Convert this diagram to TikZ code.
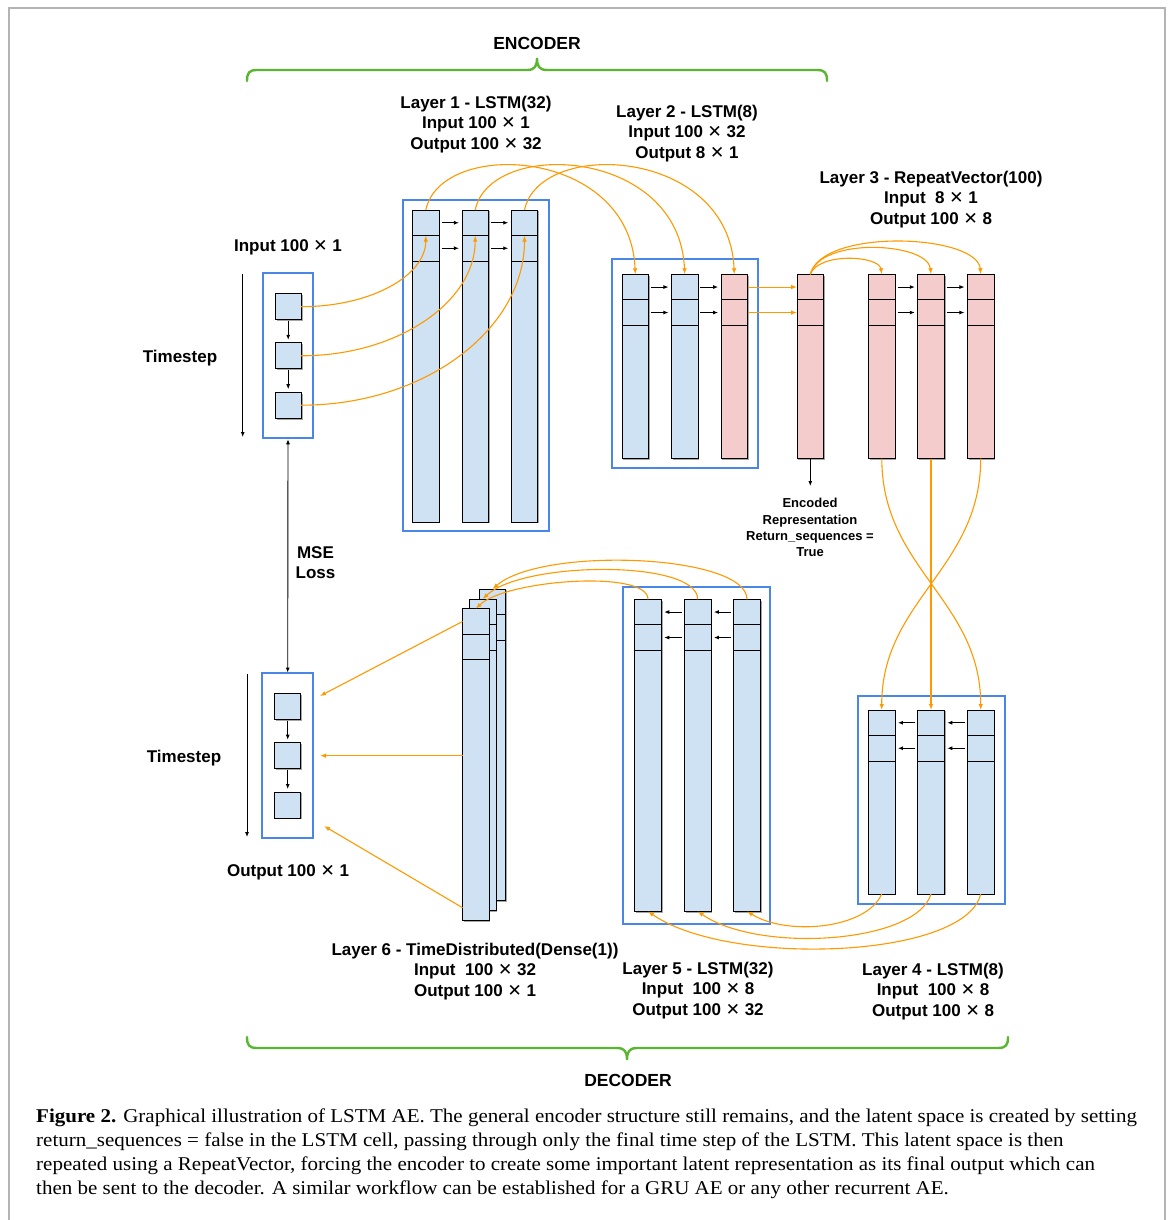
\documentclass[tikz,border=0pt]{standalone}
\usepackage{fontspec}
\usepackage{graphicx}
\setmainfont{Liberation Serif}
\newfontfamily\labf{Liberation Sans}
\newfontfamily\symf{DejaVu Sans}
\usetikzlibrary{arrows.meta,calc,shadows}
\definecolor{cellblue}{HTML}{CFE2F3}
\definecolor{cellpink}{HTML}{F4CCCC}
\definecolor{boxblue}{HTML}{4A86E8}
\definecolor{orng}{HTML}{FF9900}
\definecolor{brgreen}{HTML}{5AB530}
\definecolor{framegray}{HTML}{B4B4B4}
\newcommand{\mx}{{\symf\mdseries ✕}}
\newcommand{\capsc}[1]{\scalebox{1.077}[1]{#1}}
\tikzset{
  cell/.style={draw=black, line width=0.9pt, inner sep=0pt, outer sep=0pt, rectangle, minimum width=26.5pt,
    drop shadow={shadow xshift=1.3pt, shadow yshift=-1.3pt, fill=black, opacity=0.35}},
  sq/.style={draw=black, line width=0.9pt, fill=cellblue, inner sep=0pt, outer sep=0pt, minimum size=26pt,
    drop shadow={shadow xshift=1.3pt, shadow yshift=-1.3pt, fill=black, opacity=0.35}},
  bluebox/.style={draw=boxblue, line width=2pt, inner sep=0pt, outer sep=0pt, rectangle},
  oarr/.style={draw=orng, line width=1.1pt, -{Latex[length=6pt,width=4.5pt]}},
  barr/.style={draw=black, line width=0.9pt, -{Latex[length=5pt,width=4pt]}, shorten <=2.5pt, shorten >=3pt},
  lab/.style={font=\labf\bfseries\fontsize{17}{20.5}\selectfont, align=center, inner sep=0pt},
  smalllab/.style={font=\labf\bfseries\fontsize{13}{16.3}\selectfont, align=center, inner sep=0pt},
  brace/.style={draw=brgreen, line width=2.4pt, line cap=round},
  capline/.style={anchor=base west, inner sep=0pt, font=\fontsize{19.5}{24}\selectfont},
}
% column of three stacked cells: name, x centre, top, bottom, fill
\newcommand{\lcol}[5]{%
  \node[cell, fill=#5, minimum height=25.5pt] (#1t) at (#2,{#3+12.75}) {};
  \node[cell, fill=#5, minimum height=25.5pt] (#1m) at (#2,{#3+38.25}) {};
  \node[cell, fill=#5, minimum height={(#4-#3-51)*1pt}] (#1b) at (#2,{(#3+51+#4)/2}) {};
}
\begin{document}
\begin{tikzpicture}[x=1pt, y=-1pt]
\useasboundingbox (0,0) rectangle (1171,1220);
\fill[white] (0,0) rectangle (1171,1220);
% outer frame
\draw[framegray, line width=1.5pt] (9,1220) -- (9,8) -- (1165,8) -- (1165,1220);

% braces
\draw[brace] (247,81) .. controls (247,73) and (249,70) .. (257,70) -- (527,70)
  .. controls (535,70) and (537,66) .. (537,58) .. controls (537,66) and (539,70) .. (547,70)
  -- (817,70) .. controls (825,70) and (827,73) .. (827,81);
\node[lab, font=\labf\bfseries\fontsize{17.5}{20}\selectfont] (enc) at (537,43) {ENCODER};
\draw[brace] (247,1037) .. controls (247,1045) and (249,1048) .. (257,1048) -- (617,1048)
  .. controls (625,1048) and (627,1052) .. (627,1060) .. controls (627,1052) and (629,1048) .. (637,1048)
  -- (998,1048) .. controls (1006,1048) and (1008,1045) .. (1008,1037);
\node[lab, font=\labf\bfseries\fontsize{17.5}{20}\selectfont] (dec) at (628,1080) {DECODER};

% blue boxes
\node[bluebox, minimum width=146.6pt, minimum height=331pt] (L1box) at (476,365.5) {};
\node[bluebox, minimum width=146.6pt, minimum height=209pt] (L2box) at (685,363.8) {};
\node[bluebox, minimum width=146.7pt, minimum height=336.4pt] (L5box) at (696.35,755.5) {};
\node[bluebox, minimum width=147pt, minimum height=208pt] (L4box) at (931.8,799.7) {};
\node[bluebox, minimum width=50.6pt, minimum height=165pt] (inbox) at (288,355.8) {};
\node[bluebox, minimum width=50.7pt, minimum height=165.3pt] (outbox) at (287.7,755.7) {};

% columns
\lcol{L1c1}{425.8}{210}{522}{cellblue}
\lcol{L1c2}{475.2}{210}{522}{cellblue}
\lcol{L1c3}{524.5}{210}{522}{cellblue}
\lcol{L2c1}{635.3}{274.3}{458.7}{cellblue}
\lcol{L2c2}{684.7}{274.3}{458.7}{cellblue}
\lcol{L2c3}{734.3}{274.3}{458.7}{cellpink}
\lcol{L3s}{810.3}{274.3}{458.7}{cellpink}
\lcol{L3r1}{881.8}{274.3}{458.7}{cellpink}
\lcol{L3r2}{931}{274.3}{458.7}{cellpink}
\lcol{L3r3}{980.7}{274.3}{458.7}{cellpink}
\lcol{L6b}{492.5}{589}{900.7}{cellblue}
\lcol{L6m}{482.7}{599}{910.3}{cellblue}
\lcol{L6f}{475.8}{608.7}{920.3}{cellblue}
\lcol{L5c1}{648}{599.3}{911.3}{cellblue}
\lcol{L5c2}{697.7}{599.3}{911.3}{cellblue}
\lcol{L5c3}{747}{599.3}{911.3}{cellblue}
\lcol{L4c1}{881.7}{710}{894}{cellblue}
\lcol{L4c2}{931}{710}{894}{cellblue}
\lcol{L4c3}{980.7}{710}{894}{cellblue}

% input / output squares
\node[sq] (I1) at (288.2,306.7) {};
\node[sq] (I2) at (288.2,355.8) {};
\node[sq] (I3) at (288.2,405.2) {};
\node[sq] (O1) at (287.7,706.5) {};
\node[sq] (O2) at (287.7,755.7) {};
\node[sq] (O3) at (287.7,805) {};
\draw[barr, shorten <=1pt, shorten >=3pt] (I1) -- (I2);
\draw[barr, shorten <=1pt, shorten >=3pt] (I2) -- (I3);
\draw[barr, shorten <=1pt, shorten >=3pt] (O1) -- (O2);
\draw[barr, shorten <=1pt, shorten >=3pt] (O2) -- (O3);

% timestep arrows
\coordinate (ts1a) at (242.7,274);
\coordinate (ts1b) at (242.7,437);
\coordinate (ts2a) at (247,674);
\coordinate (ts2b) at (247,837);
\draw[barr, shorten <=0pt, shorten >=0pt] (ts1a) -- (ts1b);
\draw[barr, shorten <=0pt, shorten >=0pt] (ts2a) -- (ts2b);

% MSE loss
\draw[draw=black, line width=0.9pt, {Latex[length=5pt,width=4pt]}-{Latex[length=5pt,width=4pt]}, shorten <=1pt, shorten >=0.5pt] (inbox.south) -- (outbox.north);

% black arrows between cells
\foreach \p/\q in {L1c1/L1c2, L1c2/L1c3, L2c1/L2c2, L2c2/L2c3, L3r1/L3r2, L3r2/L3r3} {
  \draw[barr] (\p t.east) -- (\q t.west);
  \draw[barr] (\p m.east) -- (\q m.west);
}
\foreach \p/\q in {L5c2/L5c1, L5c3/L5c2, L4c2/L4c1, L4c3/L4c2} {
  \draw[barr] (\p t.west) -- (\q t.east);
  \draw[barr] (\p m.west) -- (\q m.east);
}
\coordinate (encend) at (810.3,486);
\draw[barr, shorten <=0pt, shorten >=0pt] (L3sb.south) -- (encend);

% orange connectors: input -> layer 1
\draw[oarr] (I1.east) .. controls +(70,0) and +(0,40) .. (L1c1m.north);
\draw[oarr] (I2.east) .. controls +(97,0) and +(0,66) .. (L1c2m.north);
\draw[oarr] (I3.east) .. controls +(125,0) and +(0,93) .. (L1c3m.north);
% layer 1 -> layer 2
\draw[oarr] (L1c1t.north) .. controls +(15,-72) and +(-5,-127) .. (L2c1t.north);
\draw[oarr] (L1c2t.north) .. controls +(15,-72) and +(-5,-127) .. (L2c2t.north);
\draw[oarr] (L1c3t.north) .. controls +(15,-72) and +(-5,-127) .. (L2c3t.north);
% layer 2 -> layer 3
\draw[oarr] (L2c3t.east) -- (L3st.west);
\draw[oarr] (L2c3m.east) -- (L3sm.west);
% repeat vector
\draw[oarr] (L3st.north) .. controls +(8,-22) and +(-3,-19) .. (L3r1t.north);
\draw[oarr] (L3st.north) .. controls +(10,-38) and +(-3,-32) .. (L3r2t.north);
\draw[oarr] (L3st.north) .. controls +(12,-47) and +(-3,-40) .. (L3r3t.north);
% layer 3 -> layer 4
\draw[oarr] (L3r1b.south) .. controls +(0,110) and +(0,-110) .. (L4c3t.north);
\draw[oarr] (L3r2b.south) -- (L4c2t.north);
\draw[oarr] (L3r3b.south) .. controls +(0,110) and +(0,-110) .. (L4c1t.north);
% layer 4 -> layer 5
\draw[oarr] (L4c1b.south) .. controls +(-15,35) and +(40,25) .. (L5c3b.south);
\draw[oarr] (L4c2b.south) .. controls +(-15,50) and +(60,42) .. (L5c2b.south);
\draw[oarr] (L4c3b.south) .. controls +(-15,65) and +(80,56) .. (L5c1b.south);
% layer 5 -> layer 6
\draw[oarr] (L5c1t.north) .. controls +(0,-30) and +(30,-29) .. (L6ft.north);
\draw[oarr] (L5c2t.north) .. controls +(0,-40) and +(40,-38) .. (L6mt.north);
\draw[oarr] (L5c3t.north) .. controls +(0,-45) and +(50,-43) .. (L6bt.north);
% layer 6 -> output
\coordinate (o1e) at (320,696);
\coordinate (o2e) at (320,755.7);
\coordinate (o3e) at (324,826);
\draw[oarr] (L6ft.west) -- (o1e);
\draw[oarr] ($(L6fb.north west)+(0,96)$) -- (o2e);
\draw[oarr] ($(L6fb.north west)+(0,248)$) -- (o3e);

% labels
\node[lab] (l1lab) at (476,124.5) {Layer 1 - LSTM(32)\\Input 100 \mx\ 1\\Output 100 \mx\ 32};
\node[lab] (l2lab) at (687,133.5) {Layer 2 - LSTM(8)\\Input 100 \mx\ 32\\Output 8 \mx\ 1};
\node[lab] (l3lab) at (931,199.5) {Layer 3 - RepeatVector(100)\\Input\ \ 8 \mx\ 1\\Output 100 \mx\ 8};
\node[lab] (inlab) at (288,247) {Input 100 \mx\ 1};
\node[lab] (ts1lab) at (180,358) {Timestep};
\node[lab] (mselab) at (315.5,562.5) {MSE\\Loss};
\node[lab] (ts2lab) at (184,758) {Timestep};
\node[lab] (outlab) at (288,872) {Output 100 \mx\ 1};
\node[smalllab] (enclab) at (810,527.5) {Encoded\\Representation\\Return\_sequences =\\True};
\node[lab] (l6lab) at (475,971.5) {Layer 6 - TimeDistributed(Dense(1))\\Input\ \ 100 \mx\ 32\\Output 100 \mx\ 1};
\node[lab] (l5lab) at (698,990.5) {Layer 5 - LSTM(32)\\Input\ \ 100 \mx\ 8\\Output 100 \mx\ 32};
\node[lab] (l4lab) at (933,991.5) {Layer 4 - LSTM(8)\\Input\ \ 100 \mx\ 8\\Output 100 \mx\ 8};

% caption
\node[capline] (cap1) at (36,1122) {\capsc{\textbf{Figure 2.} Graphical illustration of LSTM AE. The general encoder structure still remains, and the latent space is created by setting}};
\node[capline] (cap2) at (36,1146) {\capsc{return\_sequences = false in the LSTM cell, passing through only the final time step of the LSTM. This latent space is then}};
\node[capline] (cap3) at (36,1170) {\capsc{repeated using a RepeatVector, forcing the encoder to create some important latent representation as its final output which can}};
\node[capline] (cap4) at (36,1194) {\capsc{then be sent to the decoder. A similar workflow can be established for a GRU AE or any other recurrent AE.}};
\end{tikzpicture}
\end{document}
